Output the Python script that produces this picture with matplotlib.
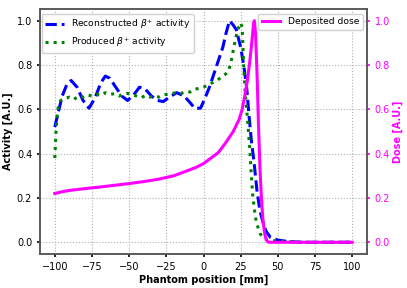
import matplotlib
matplotlib.use('Agg')
import matplotlib.pyplot as plt

# ── data ───────────────────────────────────────────────────────────────────
recon_x = [-100, -95, -92, -89, -85, -81, -77, -73, -69, -66, -63, -59, -55, -51,
           -47, -43, -39, -35, -31, -27, -23, -18, -13, -9, -6, -2, 1, 4, 7, 10,
           13, 15, 17.5, 20, 22, 25, 27, 29, 30.5, 32, 34, 36, 38, 40, 42, 45, 50,
           55, 65, 100]
recon_y = [0.52, 0.66, 0.71, 0.73, 0.70, 0.64, 0.605, 0.65, 0.72, 0.75, 0.74, 0.70,
           0.66, 0.64, 0.665, 0.70, 0.69, 0.66, 0.64, 0.635, 0.655, 0.675, 0.66,
           0.63, 0.605, 0.605, 0.65, 0.70, 0.76, 0.82, 0.88, 0.94, 1.0, 0.98,
           0.96, 0.88, 0.80, 0.70, 0.58, 0.47, 0.36, 0.23, 0.14, 0.09, 0.05,
           0.022, 0.01, 0.005, 0.0, 0.0]

prod_x = [-100, -99, -98, -96, -93, -90, -87, -84, -81, -78, -75, -72, -69, -66,
          -63, -60, -57, -54, -51, -48, -45, -42, -39, -36, -33, -30, -27, -24,
          -21, -18, -15, -12, -9, -6, -3, 0, 3, 6, 9, 12, 15, 17, 19, 21, 23, 25,
          26, 27, 28, 29, 30, 31, 32, 33, 34, 35, 36, 38, 40, 43, 50, 60, 70, 100]
prod_y = [0.38, 0.52, 0.60, 0.64, 0.65, 0.655, 0.645, 0.66, 0.655, 0.665, 0.66,
          0.668, 0.662, 0.675, 0.668, 0.67, 0.66, 0.668, 0.672, 0.665, 0.66, 0.652,
          0.662, 0.655, 0.66, 0.655, 0.665, 0.668, 0.672, 0.675, 0.672, 0.68,
          0.678, 0.69, 0.695, 0.70, 0.71, 0.72, 0.73, 0.745, 0.76, 0.775, 0.83,
          0.90, 0.96, 0.99, 0.97, 0.80, 0.68, 0.60, 0.52, 0.43, 0.32, 0.22, 0.16,
          0.11, 0.08, 0.04, 0.02, 0.01, 0.005, 0.002, 0.0, 0.0]

dose_x = [-100, -95, -90, -80, -70, -60, -50, -40, -30, -20, -10, -5, 0, 5, 10,
          15, 20, 24, 26, 28, 29.5, 31, 32, 33, 33.7, 34.2, 35, 36, 37, 38, 39,
          40, 41, 42, 43, 44, 100]
dose_y = [0.22, 0.228, 0.234, 0.242, 0.249, 0.257, 0.265, 0.274, 0.285, 0.30,
          0.325, 0.338, 0.355, 0.38, 0.405, 0.45, 0.50, 0.555, 0.60, 0.67, 0.73,
          0.81, 0.87, 0.94, 0.99, 1.0, 0.94, 0.76, 0.52, 0.33, 0.19, 0.10, 0.045,
          0.015, 0.003, 0.0, 0.0]

# ── figure ─────────────────────────────────────────────────────────────────
fs = 7
fig = plt.figure(figsize=(4.07, 2.88), dpi=100)
ax1 = fig.add_axes([0.098, 0.118, 0.804, 0.851])
ax2 = ax1.twinx()

ax1.plot(recon_x, recon_y, color='blue', linestyle='--', linewidth=2.2,
         label=r'Reconstructed $\beta^{+}$ activity')
ax1.plot(prod_x, prod_y, color='green', linestyle=':', linewidth=2.2,
         label=r'Produced $\beta^{+}$ activity')
ax2.plot(dose_x, dose_y, color='magenta', linewidth=2.2, label='Deposited dose')

ax1.set_xlim(-110, 110)
ax1.set_ylim(-0.053, 1.053)
ax2.set_ylim(-0.053, 1.053)
ax1.set_xticks([-100, -75, -50, -25, 0, 25, 50, 75, 100])
ax1.set_yticks([0.0, 0.2, 0.4, 0.6, 0.8, 1.0])
ax2.set_yticks([0.0, 0.2, 0.4, 0.6, 0.8, 1.0])

ax1.tick_params(labelsize=fs, width=1.2, length=2.5, pad=3)
ax2.tick_params(labelsize=fs, colors='magenta', width=1.2, length=2.5, pad=3)
for ax in (ax1, ax2):
    for sp in ax.spines.values():
        sp.set_color('#555555')
        sp.set_linewidth(1.1)

ax1.set_xlabel('Phantom position [mm]', fontsize=fs, fontweight='bold', labelpad=2)
ax1.set_ylabel('Activity [A.U.]', fontsize=fs, fontweight='bold', labelpad=3)
ax2.set_ylabel('Dose [A.U.]', fontsize=fs, fontweight='bold', color='magenta', labelpad=2)

ax1.grid(True, linestyle=':', color='#b0b0b0', linewidth=0.8)

ax1.legend(loc='upper left', fontsize=6.6, framealpha=0.9,
           bbox_to_anchor=(0.005, 0.98), borderaxespad=0)
ax2.legend(loc='upper right', fontsize=6.6, framealpha=0.9,
           bbox_to_anchor=(0.987, 0.98), borderaxespad=0)

fig.savefig('out.png', dpi=100)
